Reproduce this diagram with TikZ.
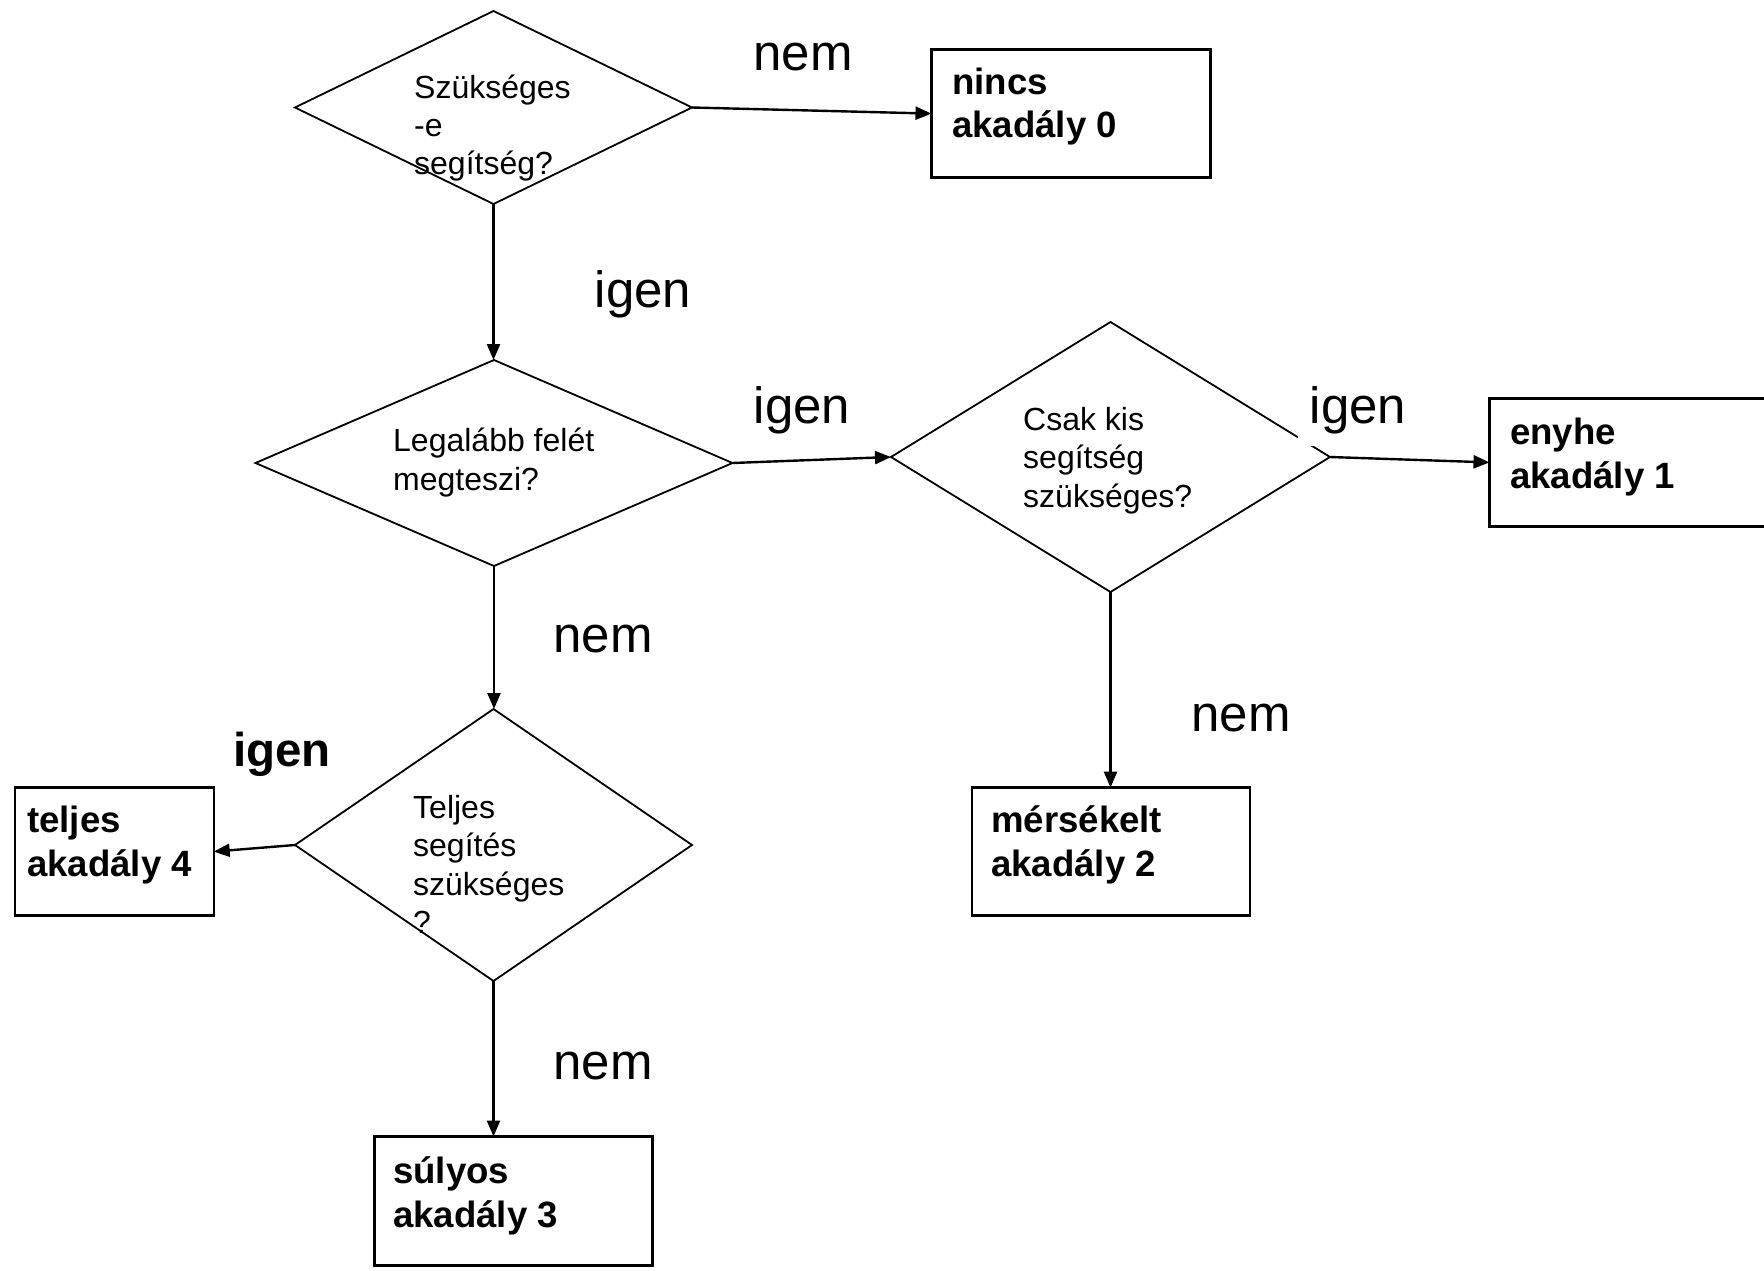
\documentclass[tikz,border=0pt]{standalone}
\usepackage{fontspec}
\setmainfont{Liberation Sans}
\usetikzlibrary{shapes.geometric,arrows.meta}
\tikzset{
  dia/.style={shape=diamond, draw, line width=1.8pt, inner sep=0pt, outer sep=0pt},
  box/.style={shape=rectangle, draw, line width=2.4pt, inner sep=0pt, outer sep=0pt},
  dtext/.style={anchor=base west, align=left, inner sep=0pt, font=\fontsize{32}{38.3}\selectfont},
  btext/.style={anchor=base west, align=left, inner sep=0pt, font=\fontsize{36.6}{43.8}\selectfont\bfseries},
  lab/.style={anchor=base, inner sep=12pt, fill=white, font=\fontsize{51}{60}\selectfont},
  blab/.style={anchor=base, inner sep=12pt, font=\fontsize{47.5}{56}\selectfont\bfseries},
  arr/.style={line width=2.4pt, -{Triangle[length=16pt,width=13pt]}}
}
\begin{document}
\begin{tikzpicture}[x=1pt,y=-1pt]
\useasboundingbox (0,0) rectangle (1764,1271);
\clip (0,0) rectangle (1764,1271);
% decision diamonds
\node[dia, minimum width=397pt, minimum height=193pt] (d1) at (493.5,107.5) {};
\node[dia, minimum width=477pt, minimum height=206pt] (d2) at (494,463) {};
\node[dia, minimum width=439pt, minimum height=270pt] (d3) at (1110.5,457) {};
\node[dia, minimum width=397pt, minimum height=272pt] (d4) at (493.5,845) {};
% (base anchor of a multi-line node = baseline of its last line)
\node[dtext] (t1) at (414,175) {Szükséges\\-e\\segítség?};
\node[dtext] (t2) at (393,490) {Legalább felét\\megteszi?};
\node[dtext] (t3) at (1023,507) {Csak kis\\segítség\\szükséges?};
\node[dtext] (t4) at (413,933.5) {Teljes\\segítés\\szükséges\\?};
% result boxes
\node[box, minimum width=279pt, minimum height=128pt] (b0) at (1071,113.6) {};
\node[box, minimum width=279pt, minimum height=128pt] (b1) at (1629,462.4) {};
\node[box, minimum width=278pt, minimum height=128pt] (b2) at (1111,851.6) {};
\node[box, minimum width=278pt, minimum height=129pt] (b3) at (513.6,1201) {};
\node[box, minimum width=199pt, minimum height=128pt] (b4) at (114.2,851.6) {};
\node[btext] (s0) at (952,138) {nincs\\akadály 0};
\node[btext] (s1) at (1510,488) {enyhe\\akadály 1};
\node[btext] (s2) at (991,876) {mérsékelt\\akadály 2};
\node[btext] (s3) at (393,1227) {súlyos\\akadály 3};
\node[btext] (s4) at (27,876) {teljes\\akadály 4};
% connectors
\draw[arr] (d1.east) -- (b0.west);
\draw[arr] (d1.south) -- (d1.south |- d2.north);
\draw[arr] (d2.east) -- (d3.west);
\draw[arr] (d3.east) -- (b1.west);
\draw[arr] (d3.south) -- (d3.south |- b2.north);
\draw[arr] (d2.south) -- (d2.south |- d4.north);
\draw[arr] (d4.west) -- (b4.east);
\draw[arr] (d4.south) -- (d4.south |- b3.north);
% labels
\node[lab] (l1) at (803,70.5) {nem};
\node[lab] (l2) at (643,307) {igen};
\node[lab] (l3) at (802,423) {igen};
\node[lab] (l4) at (1358,423) {igen};
\node[lab] (l5) at (603,652) {nem};
\node[lab] (l6) at (1241,731) {nem};
\node[lab] (l7) at (603,1079) {nem};
\node[blab] (l8) at (282,766) {igen};
\end{tikzpicture}
\end{document}
